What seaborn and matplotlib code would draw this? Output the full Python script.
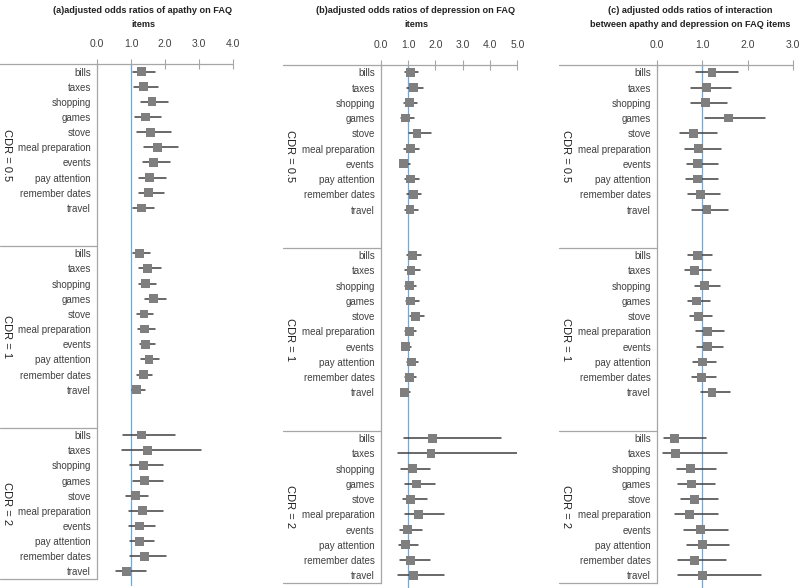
import numpy as np
import pandas as pd
import matplotlib.pyplot as plt
import seaborn as sns


items = ['bills', 'taxes', 'shopping', 'games', 'stove', 'meal preparation',
         'events', 'pay attention', 'remember dates', 'travel']
cdr_groups = ['CDR = 0.5', 'CDR = 1', 'CDR = 2']

# (a) apathy: CDR 0.5, CDR 1, CDR 2 (10 items each)
apathy_or = [1.31, 1.36, 1.62, 1.43, 1.58, 1.78, 1.67, 1.55, 1.52, 1.31,
             1.26, 1.49, 1.43, 1.66, 1.38, 1.39, 1.43, 1.53, 1.36, 1.17,
             1.31, 1.48, 1.36, 1.40, 1.13, 1.33, 1.24, 1.26, 1.40, 0.87]
apathy_lo = [1.07, 1.09, 1.29, 1.13, 1.17, 1.38, 1.34, 1.24, 1.23, 1.07,
             1.05, 1.24, 1.24, 1.42, 1.17, 1.21, 1.26, 1.30, 1.17, 1.03,
             0.77, 0.73, 0.97, 1.05, 0.84, 0.94, 0.94, 0.98, 0.98, 0.57]
apathy_hi = [1.72, 1.78, 2.10, 1.88, 2.17, 2.37, 2.14, 2.02, 1.96, 1.68,
             1.56, 1.89, 1.74, 2.02, 1.66, 1.72, 1.72, 1.81, 1.63, 1.42,
             2.30, 3.06, 1.93, 1.93, 1.50, 1.95, 1.70, 1.68, 2.04, 1.43]

# (b) depression
depr_or = [1.09, 1.20, 1.05, 0.91, 1.33, 1.09, 0.83, 1.10, 1.20, 1.07,
           1.17, 1.11, 1.05, 1.10, 1.27, 1.05, 0.90, 1.12, 1.06, 0.87,
           1.89, 1.84, 1.15, 1.30, 1.10, 1.39, 0.99, 0.91, 1.10, 1.20]
depr_lo = [0.89, 0.98, 0.87, 0.73, 1.05, 0.84, 0.70, 0.89, 0.98, 0.88,
           0.96, 0.89, 0.88, 0.93, 1.07, 0.88, 0.77, 0.96, 0.89, 0.73,
           0.84, 0.65, 0.73, 0.88, 0.80, 0.88, 0.71, 0.67, 0.71, 0.65]
depr_hi = [1.35, 1.54, 1.33, 1.22, 1.83, 1.39, 1.07, 1.39, 1.49, 1.35,
           1.46, 1.44, 1.28, 1.39, 1.57, 1.29, 1.12, 1.38, 1.30, 1.06,
           4.40, 5.01, 1.80, 1.98, 1.68, 2.30, 1.51, 1.38, 1.79, 2.30]

# (c) interaction apathy x depression
inter_or = [1.21, 1.09, 1.07, 1.57, 0.80, 0.91, 0.90, 0.90, 0.96, 1.10,
            0.90, 0.83, 1.04, 0.87, 0.92, 1.12, 1.12, 1.00, 0.98, 1.21,
            0.39, 0.40, 0.74, 0.76, 0.82, 0.72, 0.96, 1.01, 0.82, 1.01]
inter_lo = [0.85, 0.74, 0.74, 1.05, 0.51, 0.62, 0.65, 0.63, 0.69, 0.77,
            0.69, 0.62, 0.83, 0.69, 0.72, 0.86, 0.88, 0.79, 0.77, 0.96,
            0.16, 0.13, 0.43, 0.47, 0.52, 0.40, 0.60, 0.67, 0.47, 0.47]
inter_hi = [1.79, 1.63, 1.55, 2.37, 1.32, 1.41, 1.34, 1.34, 1.39, 1.56,
            1.22, 1.18, 1.38, 1.17, 1.22, 1.47, 1.46, 1.29, 1.29, 1.61,
            1.08, 1.54, 1.30, 1.27, 1.34, 1.35, 1.56, 1.58, 1.51, 2.28]

titles = ['(a)adjusted odds ratios of apathy on FAQ\nitems',
          '(b)adjusted odds ratios of depression on FAQ\nitems',
          '(c) adjusted odds ratios of interaction\nbetween apathy and depression on FAQ items']

LINE = '#a6a6a6'
TEXT = '#404040'
BOX = '#7f7f7f'
WHISK = '#404040'
REF = '#6fa8dc'

sns.set_style('white')
plt.rcParams['font.family'] = ['Liberation Sans', 'DejaVu Sans']

W, H = 800, 588
fig = plt.figure(figsize=(W / 100, H / 100), dpi=100)


def forest_panel(rect, est, lo, hi, xmax, title, title_x, left_px):
    ax = fig.add_axes([rect[0] / W, 1 - rect[3] / H, (rect[2] - rect[0]) / W, (rect[3] - rect[1]) / H])
    df = pd.DataFrame({'item': items * 3, 'est': est, 'lo': lo, 'hi': hi})
    df['y'] = np.repeat([0, 12, 24], 10) + np.tile(np.arange(10), 3)
    df['row'] = np.arange(len(df))
    ci = df.melt(id_vars=['row', 'y'], value_vars=['lo', 'hi'], value_name='x')

    ax.axvline(1, color=REF, lw=0.9, ymin=-0.012, clip_on=False, zorder=1)
    sns.lineplot(data=ci, x='x', y='y', units='row', estimator=None, sort=False,
                 color=WHISK, lw=1.1, ax=ax, zorder=2)
    sns.scatterplot(data=df, x='est', y='y', marker='s', s=40, color=BOX,
                    edgecolor='none', zorder=3, ax=ax)

    ax.set_xlim(0, xmax)
    ax.set_ylim(33.5, -0.5)
    ax.set_xticks(np.arange(xmax + 1), [f'{v:.1f}' for v in np.arange(xmax + 1)])
    ax.xaxis.tick_top()
    ax.tick_params(axis='x', direction='inout', length=7, width=0.8, color=LINE,
                   labelsize=7.5, labelcolor=TEXT, pad=7)
    ax.set_yticks(df['y'], df['item'])
    ax.tick_params(axis='y', length=0, pad=4.3, labelsize=7, labelcolor=TEXT)
    ax.set_xlabel('')
    ax.set_ylabel('')
    for s in ['top', 'right', 'bottom']:
        ax.spines[s].set_visible(False)
    ax.spines['left'].set_color(LINE)
    ax.spines['left'].set_linewidth(0.9)

    left = -left_px / (rect[2] - rect[0])
    ax.plot([left, 1], [1, 1], transform=ax.transAxes, clip_on=False, color=LINE, lw=0.9)
    for yy in [11.5, 23.5, 33.5]:
        ax.plot([left, 0], [yy, yy], transform=ax.get_yaxis_transform(),
                clip_on=False, color=LINE, lw=0.9)
    for g, yc in zip(cdr_groups, [5.5, 17.5, 28.5]):
        ax.text(left + 7 / (rect[2] - rect[0]), yc, g, transform=ax.get_yaxis_transform(),
                rotation=270, ha='center', va='center', fontsize=8, color='#222222')
    fig.text(title_x / W, 1 - 6 / H, title, ha='center', va='top', fontsize=6.6,
             weight='bold', color='#222222', linespacing=1.75)
    return ax


forest_panel((97, 64, 233, 579), apathy_or, apathy_lo, apathy_hi, 4, titles[0], 143, 97)
forest_panel((380.7, 64.7, 517.3, 583), depr_or, depr_lo, depr_hi, 5, titles[1], 416, 98)
forest_panel((657, 64.7, 793.3, 583), inter_or, inter_lo, inter_hi, 3, titles[2], 690, 98)

fig.savefig('out.png', dpi=100)
